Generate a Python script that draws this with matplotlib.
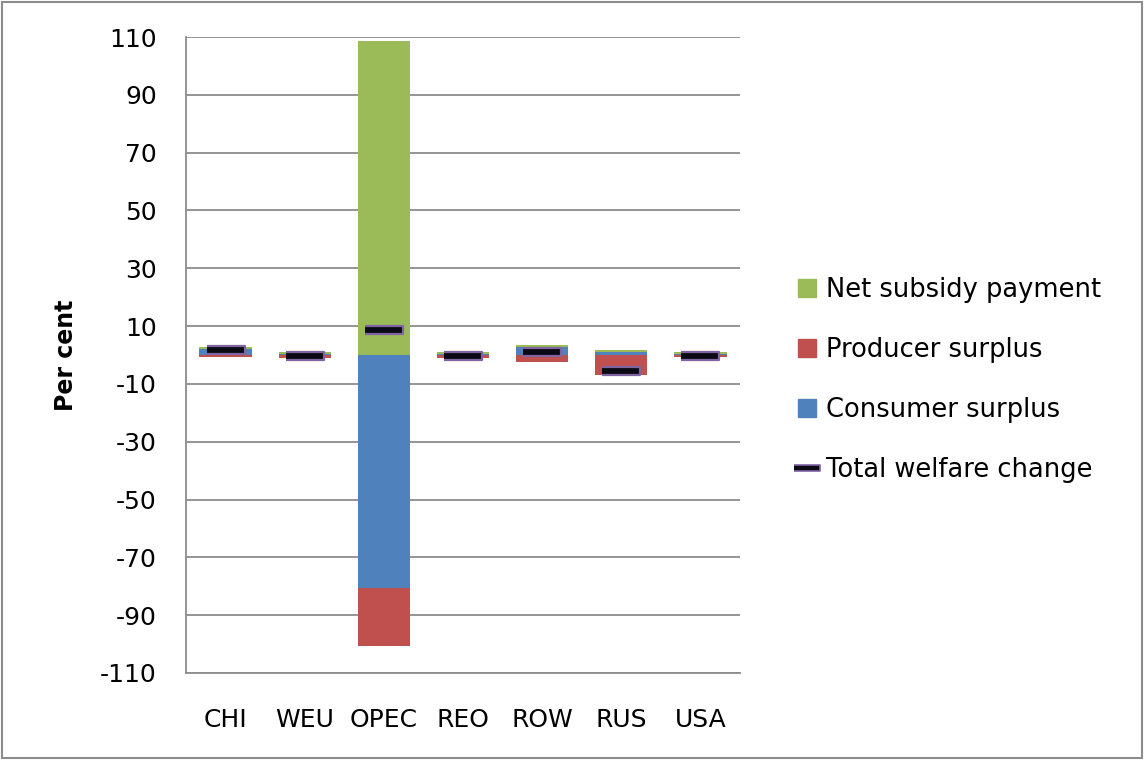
import numpy as np
import matplotlib
matplotlib.use("Agg")
import matplotlib.pyplot as plt
from matplotlib.patches import Patch, Rectangle
from matplotlib.lines import Line2D

# values (percent)
regions = ["CHI", "WEU", "OPEC", "REO", "ROW", "RUS", "USA"]
consumer = [2.0, 0.2, -80.5, 0.2, 2.9, 1.1, 0.2]
producer = [-0.8, -1.0, -20.0, -1.0, -2.4, -6.8, -0.8]
subsidy = [0.6, 0.8, 108.6, 0.8, 0.6, 0.5, 0.8]
total = [1.6, -0.3, 8.5, -0.3, 1.1, -5.6, -0.3]
yticks = list(range(-110, 111, 20))

c_green = "#9BBB59"
c_red = "#C0504D"
c_blue = "#4F81BD"
c_grid = "#8C8C8C"

plt.rcParams["font.family"] = "DejaVu Sans"
plt.rcParams["axes.unicode_minus"] = False

fig = plt.figure(figsize=(11.44, 7.6), dpi=100)
ax = fig.add_axes([0.1626, 0.1145, 0.4843, 0.8368])

x = np.arange(len(regions))
pos_base = np.zeros(len(regions))
neg_base = np.zeros(len(regions))
for vals, col in [(consumer, c_blue), (producer, c_red), (subsidy, c_green)]:
    v = np.array(vals)
    bottom = np.where(v >= 0, pos_base, neg_base)
    ax.bar(x, v, bottom=bottom, width=0.66, color=col, zorder=3)
    pos_base = pos_base + np.where(v >= 0, v, 0)
    neg_base = neg_base + np.where(v < 0, v, 0)

# total welfare shown as a dash marker
dash = [(-1, -0.2), (1, -0.2), (1, 0.2), (-1, 0.2)]
ax.plot(x, total, linestyle="none", marker=dash, markersize=27,
        markerfacecolor="#0A0A14", markeredgecolor="#8064A2",
        markeredgewidth=1.6, zorder=4)

ax.set_xlim(-0.5, len(regions) - 0.5)
ax.set_ylim(-110, 110)
ax.set_yticks(yticks)
ax.set_xticks(x)
ax.set_xticklabels(regions)
ax.yaxis.grid(True, color=c_grid, linewidth=1.3, zorder=0)
ax.set_axisbelow(True)
ax.tick_params(axis="both", length=0, labelsize=18, colors="black")
ax.tick_params(axis="y", pad=21)
ax.tick_params(axis="x", pad=25)
for s in ["top", "right"]:
    ax.spines[s].set_visible(False)
for s in ["left", "bottom"]:
    ax.spines[s].set_color(c_grid)
    ax.spines[s].set_linewidth(1.3)
ax.set_ylabel("Per cent", fontsize=17, fontweight="bold")
ax.yaxis.set_label_coords(-0.195, 0.5)

handles = [
    Patch(color=c_green, label="Net subsidy payment"),
    Patch(color=c_red, label="Producer surplus"),
    Patch(color=c_blue, label="Consumer surplus"),
    Line2D([0], [0], linestyle="none", marker=dash, markersize=19,
           markerfacecolor="#0A0A14", markeredgecolor="#8064A2",
           markeredgewidth=1.2, label="Total welfare change"),
]
fig.legend(handles=handles, loc="center left", bbox_to_anchor=(0.677, 0.5),
           frameon=False, fontsize=18.5, handlelength=0.7, handleheight=0.7,
           handletextpad=0.4, labelspacing=1.32)

fig.patches.append(Rectangle((0.002, 0.003), 0.996, 0.994, transform=fig.transFigure,
                             fill=False, edgecolor="#8C8C8C", linewidth=1.5))

fig.savefig("out.png", dpi=100)
